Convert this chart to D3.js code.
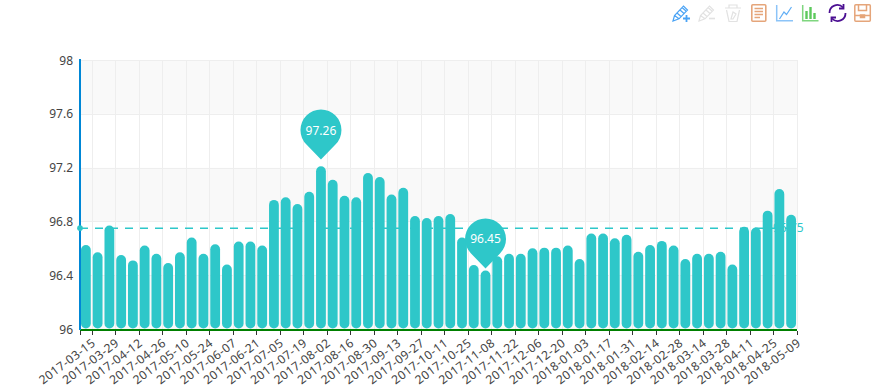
<!DOCTYPE html>
<html><head><meta charset="utf-8">
<script src="https://cdn.jsdelivr.net/npm/d3@7/dist/d3.min.js"></script>
<style>html,body{margin:0;padding:0;background:#fff}svg{display:block}text{font-family:"Noto Sans","Open Sans",sans-serif}</style>
</head><body><svg id="c" width="876" height="388"></svg>
<script>
const dates = ["2017-03-15","2017-03-22","2017-03-29","2017-04-05","2017-04-12","2017-04-19","2017-04-26","2017-05-03","2017-05-10","2017-05-17","2017-05-24","2017-05-31","2017-06-07","2017-06-14","2017-06-21","2017-06-28","2017-07-05","2017-07-12","2017-07-19","2017-07-26","2017-08-02","2017-08-09","2017-08-16","2017-08-23","2017-08-30","2017-09-06","2017-09-13","2017-09-20","2017-09-27","2017-10-04","2017-10-11","2017-10-18","2017-10-25","2017-11-01","2017-11-08","2017-11-15","2017-11-22","2017-11-29","2017-12-06","2017-12-13","2017-12-20","2017-12-27","2018-01-03","2018-01-10","2018-01-17","2018-01-24","2018-01-31","2018-02-07","2018-02-14","2018-02-21","2018-02-28","2018-03-07","2018-03-14","2018-03-21","2018-03-28","2018-04-04","2018-04-11","2018-04-18","2018-04-25","2018-05-02","2018-05-09"];
const values = [96.625,96.57,96.77,96.55,96.51,96.62,96.56,96.49,96.57,96.68,96.56,96.63,96.48,96.65,96.65,96.62,96.96,96.98,96.93,97.02,97.21,97.11,96.99,96.98,97.16,97.13,97.0,97.05,96.84,96.825,96.84,96.855,96.68,96.475,96.435,96.54,96.56,96.56,96.6,96.605,96.605,96.62,96.52,96.71,96.71,96.675,96.70,96.575,96.625,96.655,96.62,96.52,96.56,96.56,96.575,96.48,96.76,96.755,96.88,97.04,96.85];
const yTicks = [96,96.4,96.8,97.2,97.6,98];
const pinDates = ["2017-08-02","2017-11-08"];
const pinValues = [97.26,96.45];
const meanValue = 96.75;
const teal = "#2ec7c9";
const labelColor = "#444";

const svg = d3.select("#c");
const L=80,R=797,T=60,B=329;
const x = d3.scaleBand().domain(dates).range([L,R]);
const step = x.step();
const cx = d => x(d)+step/2;
const barW = 9.8;
const y = d3.scaleLinear().domain([96,98]).range([B,T]);

// split areas
const g = svg.append("g");
yTicks.slice(0,-1).forEach((t,i)=>{
  const a=yTicks[i+1];
  g.append("rect").attr("x",L).attr("width",R-L).attr("y",y(a)).attr("height",y(t)-y(a))
   .attr("fill",(i%2===0)?"#f9f9f9":"#ffffff");
});
// grid
const gridX = dates.filter((d,i)=>i%2===1).map(d=>x(d));
gridX.concat([R-0.5]).forEach(v=>g.append("line").attr("x1",Math.round(v)+.5).attr("x2",Math.round(v)+.5).attr("y1",T).attr("y2",B).attr("stroke","#eee"));
yTicks.forEach(t=>g.append("line").attr("x1",L).attr("x2",R).attr("y1",Math.round(y(t))+.5).attr("y2",Math.round(y(t))+.5).attr("stroke","#eee"));

// mean line (under bars)
const ym = y(meanValue);
g.append("line").attr("x1",L).attr("x2",R-8).attr("y1",ym).attr("y2",ym).attr("stroke",teal).attr("stroke-width",1.5).attr("stroke-dasharray","8 7");
g.append("text").attr("x",773).attr("y",ym+4).attr("font-size",12).attr("fill",teal).text(meanValue);

// bars
svg.append("g").selectAll("rect").data(dates).join("rect")
  .attr("x",d=>cx(d)-barW/2).attr("width",barW)
  .attr("y",(d,i)=>y(values[i])).attr("height",(d,i)=>y(96)-y(values[i])-0.5)
  .attr("rx",5).attr("ry",5).attr("fill",teal);

// axes
svg.append("line").attr("x1",L).attr("x2",R).attr("y1",330).attr("y2",330).attr("stroke","#008000").attr("stroke-width",2);
svg.append("line").attr("x1",L).attr("x2",L).attr("y1",T-1).attr("y2",B+1).attr("stroke","#0087d6").attr("stroke-width",2);
svg.append("circle").attr("cx",L).attr("cy",ym).attr("r",2.8).attr("fill",teal);
[L].concat(gridX,[R-0.5]).forEach(v=>svg.append("line").attr("x1",Math.round(v)+.5).attr("x2",Math.round(v)+.5).attr("y1",331).attr("y2",335).attr("stroke","#333"));
const ya = svg.append("g");
yTicks.forEach(t=>ya.append("text").attr("x",73).attr("y",y(t)+4.5).attr("text-anchor","end").attr("font-size",12).attr("fill",labelColor).text(t));
const xa = svg.append("g");
dates.filter((d,i)=>i%2===0).forEach(d=>{
  xa.append("text").attr("transform",`translate(${cx(d)+6},339) rotate(-37)`).attr("text-anchor","end")
   .attr("dy","0.6em").attr("font-size",12).attr("letter-spacing",0.4).attr("fill",labelColor).text(d);
});

// pins
const rPin=20.5;
pinDates.forEach((d,i)=>{
  const px=cx(d), tip=y(pinValues[i]), cy=tip-29.5;
  const a=Math.PI/4;
  const pg=svg.append("g");
  const path=d3.path();
  path.moveTo(px,tip);
  path.lineTo(px-rPin*Math.cos(a),cy+rPin*Math.sin(a));
  path.arc(px,cy,rPin,Math.PI-a,a,false);
  path.closePath();
  pg.append("path").attr("d",path.toString()).attr("fill",teal);
  pg.append("text").attr("x",px).attr("y",cy+4.5).attr("text-anchor","middle").attr("font-size",12).attr("fill","#fff").text(pinValues[i]);
});

// toolbox
const ic=svg.append("g").attr("fill","none").attr("stroke-width",1.2);
function pencil(gx,col){
  const s=ic.append("g").attr("transform",`translate(${gx},4)`).attr("stroke",col);
  s.append("path").attr("d","M1 17 L2.5 11.5 L11.5 2 L15.5 6 L7 14.8 Z M2.5 11.5 L7 14.8 M5 9 L9 12.5 M8 6 L12 9.5 M10 3.5 L14 7");
  return s;
}
pencil(672,"#4aa3f5").append("path").attr("d","M11 14.5 H18 M14.5 11 V18").attr("stroke-width",1.8);
pencil(698,"#e2e2e2").append("path").attr("d","M11 14.5 H17").attr("stroke-width",1.6);
const tr=ic.append("g").attr("transform","translate(725,4)").attr("stroke","#e2e2e2");
tr.append("path").attr("d","M0 4 H16 M4 4 V1 H12 V4 M1.5 6 L4 17.5 H12 L14.5 6 M6 15 L8 8 L11 10 L8 15 Z");
const doc=ic.append("g").attr("transform","translate(751,4)").attr("stroke","#e5a57a");
doc.append("rect").attr("x",.8).attr("y",.8).attr("width",14).attr("height",16.4).attr("rx",1).attr("stroke-width",1.6);
doc.append("path").attr("d","M3.5 4.5 H12 M3.5 7.5 H12 M3.5 10.5 H12 M3.5 13.5 H9").attr("stroke-width",1.3);
const lc=ic.append("g").attr("transform","translate(776,5)").attr("stroke","#8cc4f8");
lc.append("path").attr("d","M.7 0 V15.8 H17").attr("stroke-width",1.5);
lc.append("path").attr("d","M3.5 14 L8 7 L10.5 9.5 L15.5 2").attr("stroke","#60aef5");
const bc=ic.append("g").attr("transform","translate(802,5)").attr("stroke","#7fd67f");
bc.append("path").attr("d","M.7 0 V15.8 H16.5").attr("stroke-width",1.5);
bc.append("path").attr("d","M4.5 14 V6 M8.5 14 V2 M12.5 14 V8").attr("stroke","#5cc95c").attr("stroke-width",2.4);
const rf=ic.append("g").attr("transform","translate(828,4)").attr("stroke","#4b0f92").attr("stroke-width",1.8);
rf.append("path").attr("d","M1.5 9 A7.8 7.8 0 0 1 15 3.5 M17.5 9 A7.8 7.8 0 0 1 4 14.5");
rf.append("path").attr("d","M15.5 0 V4.5 H11 M3.5 18 V13.5 H8");
const sv=ic.append("g").attr("transform","translate(854,4)").attr("stroke","#e5a57a").attr("stroke-width",1.5);
sv.append("rect").attr("x",.8).attr("y",.8).attr("width",15.5).attr("height",16.4).attr("rx",1);
sv.append("path").attr("d","M4.5 1 V6.5 H12.5 V1 M1 11.5 H16");
sv.append("rect").attr("x",6.5).attr("y",11).attr("width",4).attr("height",2.5).attr("fill","#e5a57a");
</script></body></html>
